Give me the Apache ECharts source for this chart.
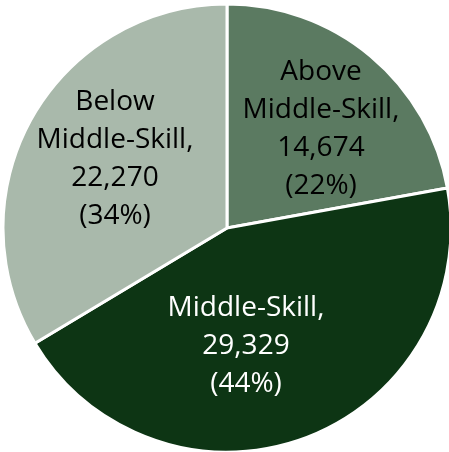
<!DOCTYPE html>
<html>
<head>
<meta charset="utf-8">
<script src="https://cdn.jsdelivr.net/npm/echarts@6/dist/echarts.min.js"></script>
<style>
  html, body { margin: 0; padding: 0; background: #fff; }
  #chart { width: 449px; height: 452px; }
</style>
</head>
<body>
<div id="chart"></div>
<script>
const categories = ['Above\nMiddle-Skill', 'Middle-Skill', 'Below\nMiddle-Skill']
const values = [14674, 29329, 22270]
const shares = ['22%', '44%', '34%']
const colors = ['#5b7a61', '#0d3514', '#a9b9ab']
const labelColors = ['#000', '#fff', '#000']
// where the labels sit in the reference (Excel "best fit")
const labelSpots = [[321, 129], [246, 346], [115, 159]]

const chart = echarts.init(document.getElementById('chart'), null, { renderer: 'canvas' })

chart.setOption({
  animation: false,
  series: [{
    type: 'pie',
    center: [227, 228],
    radius: 224,
    startAngle: 90,
    clockwise: true,
    itemStyle: { borderColor: '#fff', borderWidth: 3 },
    label: {
      show: true,
      position: 'inside',
      fontFamily: '"Open Sans", "Noto Sans", sans-serif',
      fontSize: 28,
      lineHeight: 38,
      align: 'center',
      verticalAlign: 'middle',
      formatter: p => p.name + ',\n' + p.value.toLocaleString('en-US') + '\n(' + shares[p.dataIndex] + ')'
    },
    labelLayout: p => ({ x: labelSpots[p.dataIndex][0], y: labelSpots[p.dataIndex][1] }),
    emphasis: { disabled: true },
    data: categories.map((c, i) => ({
      name: c,
      value: values[i],
      itemStyle: { color: colors[i] },
      label: { color: labelColors[i] }
    }))
  }]
})
</script>
</body>
</html>
